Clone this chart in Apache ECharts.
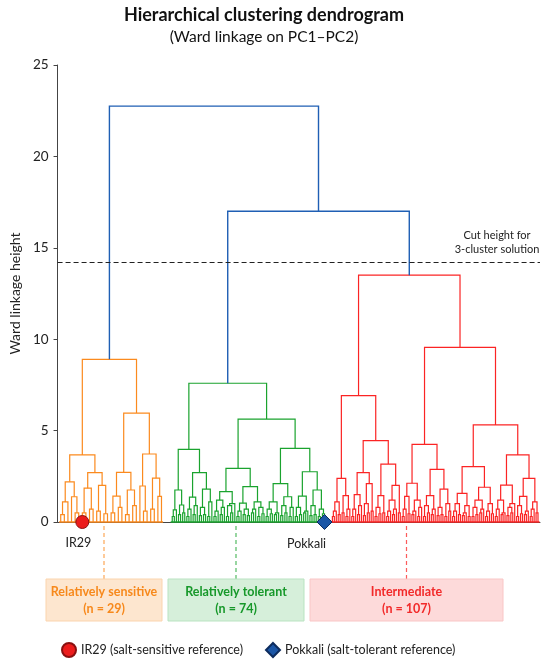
<!DOCTYPE html>
<html><head><meta charset="utf-8">
<script src="https://cdn.jsdelivr.net/npm/echarts@6/dist/echarts.min.js"></script>
<style>html,body{margin:0;padding:0;background:#fff}#c{width:550px;height:666px}</style>
</head><body><div id="c"></div>
<script>
// ================= DATA =================
const clusterNames = ['Relatively sensitive', 'Relatively tolerant', 'Intermediate'];
const clusterSizes = [29, 74, 107];
// Sub-trees: "(left right)height", x = one accession (leaf at height 0)
const orangeTree =
  '( ( ( ((x x)0.4 x)1.1 (x (x x)0.5)1.38 )2.2 ( ((x x)0.5 (x x)0.7)1.85 ((x x)0.6 (x x)0.45)2.0 )2.7 )3.67' +
  '  ( ( ((x x)0.5 (x x)0.8)1.42 ((x x)0.4 (x x)0.9)1.75 )2.72 ( (x (x x)0.6)1.97 ((x x)0.7 (x x)1.4)2.4 )3.72 )5.96 )8.9';
const greenLeftTree =
  '( ( ((x x)0.3 x)0.66 ((x x)0.4 (x x)0.5)0.93 )1.75' +
  '  ( ( ((x x)0.3 x)0.7 ((x x)0.4 x)0.9 )1.36 ( ((x x)0.35 (x x)0.4)0.8 ((x x)0.3 x)1.1 )1.8 )2.7 )3.97';
const greenRightTree =
  '( ( ( (((x x)0.3 x)0.6 ((x x)0.4 x)0.8)1.2 (((x x)0.3 (x x)0.5)0.9 x)1.0 )1.66' +
  '    ( (((x x)0.3 x)0.6 ((x x)0.4 (x x)0.35)0.7)1.03 (((x x)0.5 x)0.7 ((x x)0.3 (x x)0.45)0.8)1.1 )1.93 )2.93' +
  '  ( ( (((x x)0.3 (x x)0.45)0.7 ((x x)0.4 x)0.5)1.1 (((x x)0.35 (x x)0.5)0.9 ((x x)0.3 x)0.8)1.38 )2.1' +
  '    ( (((x x)0.3 (x x)0.4)0.8 ((x x)0.5 x)0.6)1.42 (((x x)0.35 (x x)0.4)0.9 ((x x)0.3 (x x)0.45)0.7)1.75 )2.75 )4.03 )5.63';
const greenTopHeight = 7.59;
const redLeftTree =
  '( ( (((x x)0.3 x)0.6 (x x)0.4)1.1 ((x x)0.5 ((x x)0.3 x)0.7)1.44 )2.39' +
  '  ( ( (((x x)0.3 x)0.7 ((x x)0.4 x)0.9)1.5 (((x x)0.35 (x x)0.5)1.0 (x x)0.6)2.1 )2.7' +
  '    ( (((x x)0.3 (x x)0.45)0.8 (x x)0.5)1.44 ((((x x)0.3 x)0.6 ((x x)0.4 x)0.7)1.2 (x x)0.5)2.0 )3.17 )4.45 )6.91';
const redRightTree =
  '( ( ( (((x x)0.3 x)0.7 (x x)0.45)1.4 (((x x)0.4 x)0.6 ((x x)0.3 x)0.8)1.2 )2.12' +
  '    ( (((x x)0.3 (x x)0.5)0.9 ((x x)0.4 x)0.7)1.44 (((x x)0.35 (x x)0.4)0.8 ((x x)0.3 (x x)0.6)1.0)1.8 )2.88 )4.25' +
  '  ( ( ((((x x)0.3 x)0.6 (x x)0.4)1.0 (((x x)0.35 x)0.5 (x x)0.3)0.9)1.57 ((((x x)0.3 (x x)0.4)0.8 ((x x)0.5 x)0.7)1.2 (((x x)0.3 x)0.6 (x x)0.45)1.0)1.9 )3.03' +
  '    ( ((((x x)0.3 x)0.7 ((x x)0.4 x)0.5)1.2 (((x x)0.35 (x x)0.5)0.8 x)1.0)2.02 ((((x x)0.3 (x x)0.45)0.9 ((x x)0.4 x)0.6)1.4 (((x x)0.3 x)0.7 (x x)0.5)1.1)2.39 )3.67 )5.31 )9.55';
const redTopHeight = 13.5;
const tolerantIntermediateMergeHeight = 17.0;
const rootMergeHeight = 22.75;
const cutHeight = 14.2;
const yTickValues = [0, 5, 10, 15, 20, 25];
const referenceNames = ['IR29', 'Pokkali'];
const referenceCluster = [0, 1];
const referenceLeafIndex = [6, 73];
const referenceLegend = ['IR29 (salt-sensitive reference)', 'Pokkali (salt-tolerant reference)'];
const cutLabel = 'Cut height for\n3-cluster solution';

// ================= LAYOUT / STYLE =================
const clusterColors = ['#fb8a1e', '#1aa32e', '#fb2424', '#1f5fb4'];
const boxFill = ['#fde6cf', '#d6efda', '#fddada'];
const boxStroke = ['#fbd4ad', '#b9e3c1', '#f9c6c6'];
const boxText = ['#f7891c', '#17982a', '#f22a2a'];
const leafStart = [1.6, 58, 139];
const leafStep = [1.82, 1.055, 0.981];
const FONT = 'Lato';

// ================= BUILD =================
function parseTree(str) {
  const toks = str.match(/\(|\)[0-9.]+|x/g);
  let p = 0;
  function node() {
    const t = toks[p++];
    if (t === 'x') return { leaf: true };
    const l = node(), r = node();
    const c = toks[p++];
    return { left: l, right: r, h: parseFloat(c.slice(1)) };
  }
  return node();
}
const clusterTrees = [
  parseTree(orangeTree),
  { left: parseTree(greenLeftTree), right: parseTree(greenRightTree), h: greenTopHeight },
  { left: parseTree(redLeftTree), right: parseTree(redRightTree), h: redTopHeight }
];
const links = [];
const leafX = [[], [], []];
function layout(n, c, counter) {
  if (n.leaf) {
    const x = leafStart[c] + counter.i * leafStep[c];
    leafX[c].push(x);
    counter.i++;
    return { x: x, h: 0 };
  }
  const a = layout(n.left, c, counter), b = layout(n.right, c, counter);
  links.push([a.x, b.x, a.h, b.h, n.h, c]);
  return { x: (a.x + b.x) / 2, h: n.h };
}
const tops = clusterTrees.map((t, c) => layout(t, c, { i: 0 }));
// upper (blue) merges
const trX = (tops[1].x + tops[2].x) / 2;
links.push([tops[1].x, tops[2].x, tops[1].h, tops[2].h, tolerantIntermediateMergeHeight, 3]);
links.push([tops[0].x, trX, tops[0].h, tolerantIntermediateMergeHeight, rootMergeHeight, 3]);
const baseSegs = leafX.map((xs, c) => [xs[0] - 0.8, xs[xs.length - 1] + 0.8, 0, 0, 0, c]);

const chart = echarts.init(document.getElementById('c'));
const gridLeft = 52, gridRight = 10, gridTop = 65, gridBottom = 144;

function renderLink(params, api) {
  const xl = api.value(0), xr = api.value(1), hl = api.value(2), hr = api.value(3), h = api.value(4), c = api.value(5);
  const pts = [api.coord([xl, hl]), api.coord([xl, h]), api.coord([xr, h]), api.coord([xr, hr])];
  return { type: 'polyline', shape: { points: pts }, style: { stroke: clusterColors[c], lineWidth: c === 3 ? 1.4 : 1.2, fill: null } };
}
function renderBase(params, api) {
  const c = api.value(5);
  const pts = [api.coord([api.value(0), 0]), api.coord([api.value(1), 0])];
  return { type: 'polyline', shape: { points: pts }, style: { stroke: clusterColors[c], lineWidth: 1.4, fill: null } };
}

const refSymbols = ['circle', 'diamond'];
const refColors = ['#ec1c1c', '#1b56a6'];
const refBorders = ['#8a1010', '#0d2c5e'];
const refSizes = [13, 15];
const refLabelOffset = [[-4, 0], [-18, 0]];

// boxes (annotation layout, px)
const boxes = [[46, 116], [168, 136], [310, 193]];
const boxTop = 579, boxH = 42;
const graphics = [];
boxes.forEach((b, c) => {
  const cx = b[0] + b[1] / 2;
  graphics.push({ type: 'line', silent: true, shape: { x1: cx, y1: 526, x2: cx, y2: boxTop }, style: { stroke: clusterColors[c], opacity: 0.75, lineWidth: 1.2, lineDash: [4, 3] } });
  graphics.push({ type: 'rect', silent: true, shape: { x: b[0], y: boxTop, width: b[1], height: boxH }, style: { fill: boxFill[c], stroke: boxStroke[c], lineWidth: 1 } });
  graphics.push({ type: 'text', silent: true, x: cx, y: boxTop + 13, style: { text: clusterNames[c], fill: boxText[c], font: 'bold 12.5px "' + FONT + '"', align: 'center', verticalAlign: 'middle' } });
  graphics.push({ type: 'text', silent: true, x: cx, y: boxTop + 30, style: { text: '(n = ' + clusterSizes[c] + ')', fill: boxText[c], font: 'bold 12.5px "' + FONT + '"', align: 'center', verticalAlign: 'middle' } });
});

const series = [
  { type: 'custom', name: 'links', renderItem: renderLink, data: links, encode: { x: [0, 1], y: [2, 3, 4] }, silent: true, z: 3 },
  { type: 'custom', name: 'base', renderItem: renderBase, data: baseSegs, encode: { x: [0, 1], y: [2] }, silent: true, z: 4,
    markLine: { silent: true, symbol: 'none', data: [{ yAxis: cutHeight }],
      lineStyle: { type: [5, 3], color: '#222', width: 1.2 },
      label: { show: true, position: 'insideEndTop', formatter: cutLabel, fontSize: 11, lineHeight: 14, color: '#222', fontFamily: FONT, align: 'center', offset: [-38, -1] } } }
];
referenceNames.forEach((nm, k) => {
  series.push({
    type: 'scatter', name: referenceLegend[k], symbol: refSymbols[k], symbolSize: refSizes[k], z: 10,
    itemStyle: { color: refColors[k], borderColor: refBorders[k], borderWidth: 1, opacity: 1 },
    label: { show: true, position: 'bottom', distance: 7, formatter: nm, color: '#222', fontSize: 12.5, fontFamily: FONT, offset: refLabelOffset[k] },
    data: [[leafX[referenceCluster[k]][referenceLeafIndex[k]], 0]]
  });
});

chart.setOption({
  animation: false,
  textStyle: { fontFamily: FONT },
  title: {
    text: 'Hierarchical clustering dendrogram', subtext: '(Ward linkage on PC1–PC2)',
    left: 259, top: 1, textAlign: 'center', itemGap: 5,
    textStyle: { fontSize: 18, fontWeight: 'bold', color: '#111', fontFamily: FONT },
    subtextStyle: { fontSize: 15.5, color: '#111', fontFamily: FONT }
  },
  legend: {
    data: referenceLegend, bottom: 3, left: 56, itemGap: 22, itemWidth: 14, itemHeight: 14,
    textStyle: { fontSize: 12.5, color: '#222', fontFamily: FONT }
  },
  grid: { left: gridLeft, right: gridRight, top: gridTop, bottom: gridBottom, containLabel: false },
  xAxis: { type: 'value', min: 0, max: 244, axisLine: { show: true, onZero: false, lineStyle: { color: '#444' } }, axisTick: { show: false }, axisLabel: { show: false }, splitLine: { show: false } },
  yAxis: {
    type: 'value', min: 0, max: 25, interval: 5, name: 'Ward linkage height', nameLocation: 'middle', nameGap: 33,
    nameTextStyle: { fontSize: 14, color: '#222', fontFamily: FONT },
    axisLine: { show: true, lineStyle: { color: '#444', width: 1 } },
    axisTick: { show: true, length: 4, lineStyle: { color: '#444' } },
    axisLabel: { fontSize: 13.5, color: '#222', margin: 9, fontFamily: FONT, formatter: v => yTickValues.includes(v) ? String(v) : '' },
    splitLine: { show: false }
  },
  graphic: graphics,
  series: series
});
</script></body></html>
